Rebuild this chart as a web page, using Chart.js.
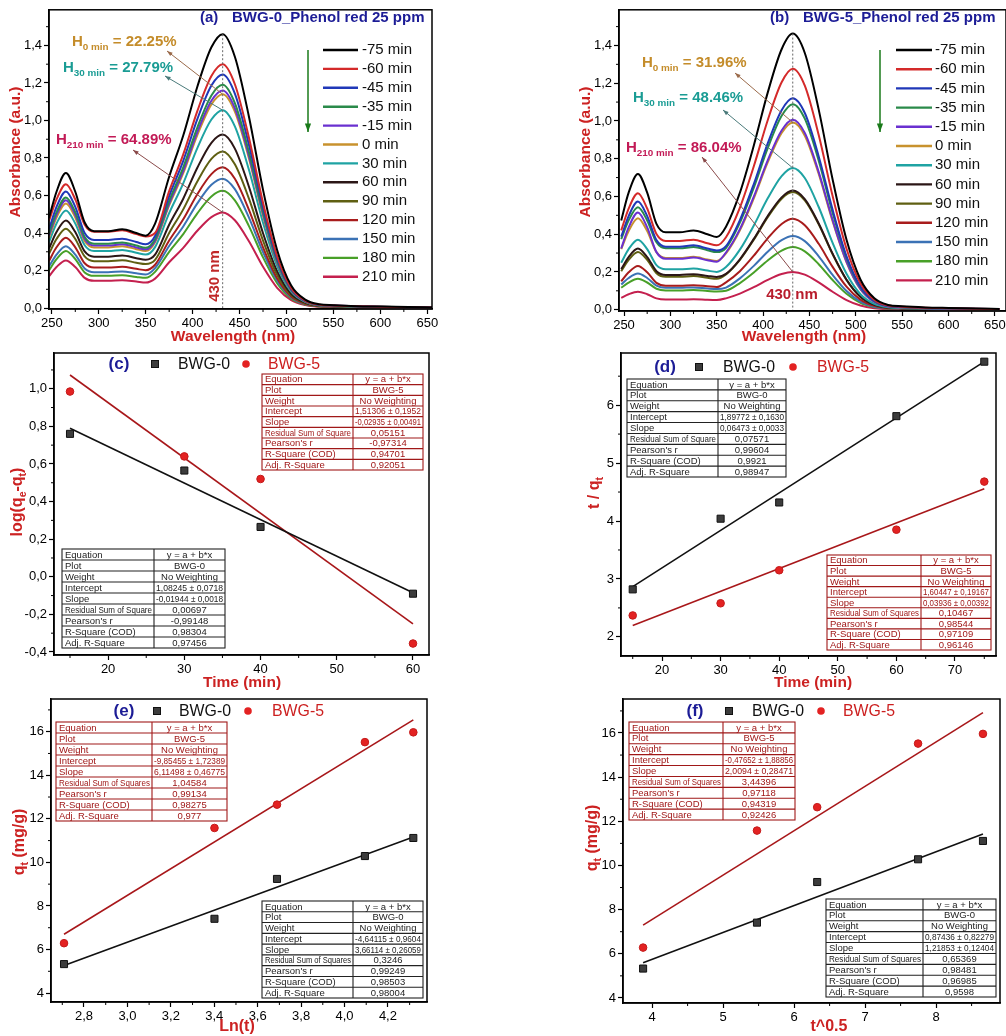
<!DOCTYPE html>
<html>
<head>
<meta charset="utf-8">
<script src="https://cdn.jsdelivr.net/npm/chart.js@4.4.1/dist/chart.umd.min.js"></script>
<style>
html, body { margin: 0; padding: 0; background: #fff; overflow: hidden; width: 1006px; height: 1036px; position: relative; }
canvas { position: absolute; }
</style>
</head>
<body>
<canvas id="ca" width="500" height="344" style="left:0;top:0"></canvas>
<canvas id="cb" width="520" height="344" style="left:500px;top:0"></canvas>
<canvas id="cc" width="500" height="360" style="left:0;top:340px"></canvas>
<canvas id="cd" width="520" height="360" style="left:500px;top:340px"></canvas>
<canvas id="ce" width="500" height="366" style="left:0;top:670px"></canvas>
<canvas id="cf" width="520" height="366" style="left:500px;top:670px"></canvas>
<script>
// ---- spectra (a) BWG-0 and (b) BWG-5, absorbance vs wavelength ----
const wavelengths = [247,255,265,275,285,295,310,325,340,350,360,375,390,405,420,432,445,460,475,490,505,520,535,550,575,600,630,655];
const legendTimes = ['-75 min','-60 min','-45 min','-35 min','-15 min','0 min','30 min','60 min','90 min','120 min','150 min','180 min','210 min'];
const curveColors = ['#000000','#d42a2a','#2038b8','#2a8a4a','#6a30d0','#c8922e','#1fa3a3','#2b1616','#5f5f12','#a81c1c','#3b72b5','#48a028','#c4204e'];

const a_m75 = [0.48,0.62,0.72,0.62,0.456,0.41,0.41,0.42,0.40,0.386,0.45,0.70,0.92,1.18,1.39,1.46,1.34,1.02,0.63,0.31,0.12,0.045,0.02,0.015,0.01,0.008,0.005,0.003];
const a_m60 = [0.464,0.579,0.66,0.579,0.444,0.407,0.407,0.415,0.394,0.382,0.40,0.623,0.819,1.05,1.237,1.30,1.193,0.908,0.561,0.276,0.107,0.04,0.018,0.013,0.009,0.007,0.004,0.003];
const a_m45 = [0.42,0.539,0.622,0.539,0.40,0.363,0.363,0.37,0.352,0.34,0.384,0.597,0.785,1.007,1.186,1.245,1.143,0.87,0.537,0.264,0.102,0.038,0.017,0.013,0.009,0.007,0.004,0.003];
const a_m35 = [0.398,0.511,0.59,0.511,0.379,0.343,0.343,0.35,0.333,0.322,0.367,0.571,0.75,0.962,1.133,1.19,1.092,0.831,0.513,0.253,0.098,0.037,0.016,0.012,0.008,0.007,0.004,0.002];
const a_m15 = [0.387,0.497,0.575,0.497,0.368,0.333,0.333,0.34,0.323,0.313,0.358,0.557,0.731,0.938,1.105,1.16,1.065,0.811,0.501,0.246,0.095,0.036,0.016,0.012,0.008,0.006,0.004,0.002];
const a_0   = [0.376,0.483,0.558,0.483,0.357,0.323,0.323,0.33,0.314,0.304,0.351,0.547,0.719,0.922,1.086,1.14,1.047,0.797,0.492,0.242,0.094,0.035,0.016,0.012,0.008,0.006,0.004,0.002];
const a_30  = [0.352,0.451,0.52,0.451,0.335,0.304,0.304,0.31,0.295,0.285,0.325,0.506,0.665,0.853,1.005,1.055,0.969,0.737,0.455,0.224,0.087,0.033,0.014,0.011,0.007,0.006,0.004,0.002];
const a_60  = [0.317,0.405,0.467,0.405,0.302,0.274,0.274,0.28,0.266,0.258,0.285,0.444,0.583,0.748,0.881,0.925,0.85,0.647,0.399,0.197,0.076,0.029,0.013,0.01,0.006,0.005,0.003,0.002];
const a_90  = [0.289,0.368,0.423,0.368,0.275,0.25,0.25,0.255,0.242,0.235,0.257,0.40,0.526,0.675,0.795,0.835,0.766,0.583,0.36,0.177,0.069,0.026,0.011,0.009,0.006,0.005,0.003,0.002];
const a_120 = [0.251,0.324,0.375,0.324,0.239,0.216,0.216,0.22,0.209,0.202,0.231,0.36,0.473,0.607,0.714,0.75,0.689,0.524,0.324,0.159,0.062,0.023,0.01,0.008,0.005,0.004,0.003,0.002];
const a_150 = [0.222,0.285,0.33,0.285,0.211,0.191,0.191,0.195,0.185,0.179,0.213,0.331,0.435,0.558,0.657,0.69,0.634,0.482,0.298,0.147,0.057,0.021,0.009,0.007,0.005,0.004,0.002,0.001];
const a_180 = [0.201,0.261,0.304,0.261,0.19,0.172,0.172,0.175,0.166,0.161,0.193,0.30,0.394,0.505,0.595,0.625,0.574,0.437,0.27,0.133,0.051,0.019,0.009,0.006,0.004,0.003,0.002,0.001];
const a_210 = [0.169,0.219,0.254,0.219,0.161,0.145,0.145,0.148,0.141,0.136,0.157,0.244,0.321,0.412,0.485,0.51,0.468,0.356,0.22,0.108,0.042,0.016,0.007,0.005,0.003,0.003,0.002,0.001];

const b_m75 = [0.473,0.62,0.719,0.62,0.455,0.41,0.41,0.42,0.40,0.385,0.44,0.62,0.87,1.15,1.38,1.463,1.36,1.06,0.69,0.37,0.16,0.06,0.025,0.018,0.012,0.009,0.006,0.004];
const b_m60 = [0.42,0.536,0.617,0.536,0.401,0.364,0.364,0.371,0.352,0.341,0.384,0.541,0.76,1.004,1.205,1.277,1.187,0.925,0.602,0.323,0.14,0.052,0.022,0.016,0.01,0.008,0.005,0.003];
const b_m45 = [0.387,0.496,0.573,0.496,0.369,0.334,0.334,0.341,0.324,0.314,0.337,0.475,0.666,0.881,1.057,1.12,1.042,0.812,0.529,0.283,0.123,0.046,0.019,0.014,0.009,0.007,0.005,0.003];
const b_m35 = [0.374,0.473,0.543,0.473,0.357,0.325,0.325,0.332,0.315,0.305,0.327,0.461,0.647,0.856,1.027,1.089,1.012,0.789,0.513,0.275,0.119,0.045,0.019,0.013,0.009,0.007,0.004,0.003];
const b_m15 = [0.324,0.436,0.515,0.436,0.305,0.27,0.27,0.276,0.262,0.254,0.303,0.427,0.599,0.791,0.949,1.006,0.936,0.729,0.475,0.255,0.11,0.041,0.017,0.012,0.008,0.006,0.004,0.003];
const b_0   = [0.321,0.417,0.485,0.417,0.305,0.274,0.274,0.28,0.266,0.258,0.298,0.42,0.59,0.78,0.936,0.992,0.922,0.719,0.468,0.251,0.108,0.041,0.017,0.012,0.008,0.006,0.004,0.003];
const b_30  = [0.249,0.321,0.371,0.321,0.236,0.214,0.214,0.218,0.207,0.20,0.226,0.318,0.446,0.59,0.708,0.751,0.698,0.544,0.354,0.19,0.082,0.031,0.013,0.009,0.006,0.005,0.003,0.002];
const b_60  = [0.215,0.279,0.324,0.279,0.204,0.184,0.184,0.188,0.179,0.173,0.19,0.267,0.375,0.496,0.595,0.631,0.586,0.457,0.297,0.159,0.069,0.026,0.011,0.008,0.005,0.004,0.003,0.002];
const b_90  = [0.204,0.264,0.306,0.264,0.193,0.174,0.174,0.178,0.169,0.164,0.187,0.264,0.371,0.49,0.588,0.623,0.579,0.452,0.294,0.158,0.068,0.026,0.011,0.008,0.005,0.004,0.003,0.002];
const b_120 = [0.15,0.198,0.232,0.198,0.142,0.127,0.127,0.13,0.124,0.12,0.145,0.204,0.286,0.378,0.454,0.482,0.447,0.349,0.227,0.122,0.053,0.02,0.008,0.006,0.004,0.003,0.002,0.001];
const b_150 = [0.133,0.168,0.192,0.168,0.127,0.116,0.116,0.118,0.112,0.109,0.117,0.166,0.232,0.307,0.368,0.39,0.363,0.283,0.184,0.099,0.043,0.016,0.007,0.005,0.003,0.002,0.002,0.001];
const b_180 = [0.116,0.144,0.164,0.144,0.111,0.102,0.102,0.104,0.099,0.096,0.10,0.141,0.197,0.261,0.313,0.332,0.309,0.241,0.157,0.084,0.036,0.014,0.006,0.004,0.003,0.002,0.001,0.001];
const b_210 = [0.063,0.082,0.095,0.082,0.06,0.054,0.054,0.055,0.052,0.051,0.06,0.085,0.119,0.158,0.189,0.20,0.186,0.145,0.095,0.051,0.022,0.008,0.003,0.002,0.002,0.001,0.001,0.001];

// ---- kinetics (c)-(f) ----
const timeC = [15, 30, 40, 60];
const logC0 = [0.76, 0.565, 0.265, -0.09];
const logC5 = [0.985, 0.64, 0.52, -0.355];
const fitCx = [15, 60];
const fitC0 = [0.79, -0.085];
const fitC5 = [1.073, -0.25];

const timeD = [15, 30, 40, 60, 75];
const tqD0 = [2.82, 4.04, 4.32, 5.81, 6.75];
const tqD5 = [2.37, 2.58, 3.15, 3.85, 4.68];
const fitDx = [15, 75];
const fitD0 = [2.868, 6.752];
const fitD5 = [2.195, 4.556];

const lnT = [2.708, 3.401, 3.689, 4.094, 4.317];
const qE0 = [5.33, 7.41, 9.24, 10.29, 11.12];
const qE5 = [6.29, 11.58, 12.65, 15.52, 15.97];
const fitEx = [2.708, 4.317];
const fitE0 = [5.27, 11.16];
const fitE5 = [6.70, 16.54];

const sqrtT = [3.873, 5.477, 6.325, 7.746, 8.660];
const qF0 = [5.33, 7.41, 9.25, 10.28, 11.11];
const qF5 = [6.28, 11.58, 12.64, 15.52, 15.96];
const fitFx = [3.873, 8.660];
const fitF0 = [5.59, 11.43];
const fitF5 = [7.30, 16.92];

// fit report tables
const rowNames = ['Equation', 'Plot', 'Weight', 'Intercept', 'Slope', 'Residual Sum of Square', "Pearson's r", 'R-Square (COD)', 'Adj. R-Square'];
const rowNamesS = ['Equation', 'Plot', 'Weight', 'Intercept', 'Slope', 'Residual Sum of Squares', "Pearson's r", 'R-Square (COD)', 'Adj. R-Square'];
const tblC5 = ['y = a + b*x', 'BWG-5', 'No Weighting', '1,51306 ± 0,1952', '-0,02935 ± 0,00491', '0,05151', '-0,97314', '0,94701', '0,92051'];
const tblC0 = ['y = a + b*x', 'BWG-0', 'No Weighting', '1,08245 ± 0,0718', '-0,01944 ± 0,0018', '0,00697', '-0,99148', '0,98304', '0,97456'];
const tblD0 = ['y = a + b*x', 'BWG-0', 'No Weighting', '1,89772 ± 0,1630', '0,06473 ± 0,0033', '0,07571', '0,99604', '0,9921', '0,98947'];
const tblD5 = ['y = a + b*x', 'BWG-5', 'No Weighting', '1,60447 ± 0,19167', '0,03936 ± 0,00392', '0,10467', '0,98544', '0,97109', '0,96146'];
const tblE5 = ['y = a + b*x', 'BWG-5', 'No Weighting', '-9,85455 ± 1,72389', '6,11498 ± 0,46775', '1,04584', '0,99134', '0,98275', '0,977'];
const tblE0 = ['y = a + b*x', 'BWG-0', 'No Weighting', '-4,64115 ± 0,9604', '3,66114 ± 0,26059', '0,3246', '0,99249', '0,98503', '0,98004'];
const tblF5 = ['y = a + b*x', 'BWG-5', 'No Weighting', '-0,47652 ± 1,88856', '2,0094 ± 0,28471', '3,44396', '0,97118', '0,94319', '0,92426'];
const tblF0 = ['y = a + b*x', 'BWG-0', 'No Weighting', '0,87436 ± 0,82279', '1,21853 ± 0,12404', '0,65369', '0,98481', '0,96985', '0,9598'];

const FONT = '"Liberation Sans", Arial, sans-serif';
const NAVY = '#1c1c96', AXRED = '#cc2222', RED5 = '#cc1f1f', DARK0 = '#111';
const GOLD = '#c48c2a', TEAL = '#1a9c94', CRIM = '#c21a56';
const pk = wavelengths.indexOf(432);

function pts(xs, ys) { return xs.map((x, i) => ({ x: x, y: ys[i] })); }

function axisOpts(min, max, step, dec, isX, size) {
  return {
    type: 'linear', min: min, max: max, position: isX ? 'bottom' : 'left',
    afterBuildTicks: s => {
      const t = [];
      for (let k = Math.ceil(min / step - 1e-9); k * step <= max + 1e-9; k++) t.push({ value: +(k * step).toFixed(6) });
      s.ticks = t;
    },
    afterFit: s => { if (isX) s.height = size; else s.width = size; },
    ticks: { color: '#000', font: { family: FONT, size: 13 }, padding: 2, autoSkip: false, maxRotation: 0,
             callback: v => Number(v).toFixed(dec).replace('.', ',') },
    grid: { drawOnChartArea: false, drawTicks: true, tickLength: 5, tickColor: '#000', tickWidth: 1.2 },
    border: { display: true, color: '#000', width: 1.5 }
  };
}

function frame(c) {
  const a = c.chartArea, x = c.ctx;
  x.save(); x.strokeStyle = '#000'; x.lineWidth = 1.5;
  x.strokeRect(a.left, a.top, a.right - a.left, a.bottom - a.top);
  x.restore();
}

function minor(ctx, s, step, major, isX) {
  ctx.save(); ctx.strokeStyle = '#000'; ctx.lineWidth = 1;
  for (let k = Math.ceil(s.min / step - 1e-9); k * step <= s.max + 1e-9; k++) {
    const v = k * step;
    if (Math.abs(v / major - Math.round(v / major)) < 1e-6) continue;
    const p = s.getPixelForValue(v);
    ctx.beginPath();
    if (isX) { ctx.moveTo(p, s.top); ctx.lineTo(p, s.top + 3); }
    else { ctx.moveTo(s.right, p); ctx.lineTo(s.right - 3, p); }
    ctx.stroke();
  }
  ctx.restore();
}

function txt(ctx, s, x, y, o) {
  ctx.save();
  ctx.font = (o.w || 'normal') + ' ' + o.size + 'px ' + FONT;
  ctx.fillStyle = o.color || '#000';
  ctx.textAlign = o.align || 'left';
  ctx.textBaseline = 'middle';
  if (o.max) ctx.fillText(s, x, y, o.max); else ctx.fillText(s, x, y);
  ctx.restore();
}

// bold text with subscripts: parts = [[text, isSub], ...]
function rich(ctx, parts, x, y, size, color, align, rot) {
  ctx.save(); ctx.translate(x, y); if (rot) ctx.rotate(-Math.PI / 2);
  ctx.fillStyle = color; ctx.textBaseline = 'middle'; ctx.textAlign = 'left';
  const f = p => 'bold ' + (p[1] ? size * 0.66 : size) + 'px ' + FONT;
  let w = 0;
  parts.forEach(p => { ctx.font = f(p); w += ctx.measureText(p[0]).width; });
  let cx = align === 'center' ? -w / 2 : 0;
  parts.forEach(p => { ctx.font = f(p); ctx.fillText(p[0], cx, p[1] ? size * 0.32 : 0); cx += ctx.measureText(p[0]).width; });
  ctx.restore();
}

function arrow(ctx, x1, y1, x2, y2, color, head, lw) {
  ctx.save(); ctx.strokeStyle = color; ctx.fillStyle = color; ctx.lineWidth = lw || 1;
  ctx.beginPath(); ctx.moveTo(x1, y1); ctx.lineTo(x2, y2); ctx.stroke();
  const a = Math.atan2(y2 - y1, x2 - x1);
  ctx.beginPath(); ctx.moveTo(x2, y2);
  ctx.lineTo(x2 - head * Math.cos(a - 0.35), y2 - head * Math.sin(a - 0.35));
  ctx.lineTo(x2 - head * Math.cos(a + 0.35), y2 - head * Math.sin(a + 0.35));
  ctx.closePath(); ctx.fill();
  ctx.restore();
}

function specLegend(ctx, x1, x2, tx, y0, dy) {
  legendTimes.forEach((t, i) => {
    const yy = y0 + i * dy;
    ctx.save(); ctx.strokeStyle = curveColors[i]; ctx.lineWidth = 2.4;
    ctx.beginPath(); ctx.moveTo(x1, yy); ctx.lineTo(x2, yy); ctx.stroke(); ctx.restore();
    txt(ctx, t, tx, yy, { size: 15, color: '#111' });
  });
}

function dotted(ctx, x, y1, y2) {
  ctx.save(); ctx.strokeStyle = '#666'; ctx.lineWidth = 1; ctx.setLineDash([2, 2]);
  ctx.beginPath(); ctx.moveTo(x, y1); ctx.lineTo(x, y2); ctx.stroke(); ctx.restore();
}

function key(ctx, letter, lx, sx, t0, dx, t5, yy) {
  txt(ctx, letter, lx, yy, { w: 'bold', size: 17, color: NAVY, align: 'center' });
  ctx.save();
  ctx.fillStyle = '#3c3c3c'; ctx.strokeStyle = '#111'; ctx.lineWidth = 1;
  ctx.fillRect(sx - 3.5, yy - 3.5, 7, 7); ctx.strokeRect(sx - 3.5, yy - 3.5, 7, 7);
  ctx.fillStyle = '#e32222'; ctx.beginPath(); ctx.arc(dx, yy, 3.8, 0, Math.PI * 2); ctx.fill();
  ctx.restore();
  txt(ctx, 'BWG-0', t0, yy, { size: 17, color: DARK0, max: 52 });
  txt(ctx, 'BWG-5', t5, yy, { size: 17, color: RED5, max: 52 });
}

function table(ctx, x1, y1, x2, y2, xs, names, vals, color) {
  const h = (y2 - y1) / names.length;
  ctx.save();
  ctx.fillStyle = '#fff'; ctx.fillRect(x1, y1, x2 - x1, y2 - y1);
  ctx.strokeStyle = color; ctx.lineWidth = 1.1;
  ctx.strokeRect(x1, y1, x2 - x1, y2 - y1);
  ctx.beginPath();
  for (let i = 1; i < names.length; i++) { ctx.moveTo(x1, y1 + i * h); ctx.lineTo(x2, y1 + i * h); }
  ctx.moveTo(xs, y1); ctx.lineTo(xs, y2);
  ctx.stroke();
  ctx.restore();
  names.forEach((n, i) => {
    const cy = y1 + h * i + h / 2 + 0.5;
    txt(ctx, n, x1 + 3, cy, { size: 9.5, color: color, max: xs - x1 - 5 });
    txt(ctx, vals[i], (xs + x2) / 2, cy, { size: 9.5, color: color, align: 'center', max: x2 - xs - 4 });
  });
}

function spectrum(id, W, H, ca, curves, xr, yr, deco) {
  return new Chart(document.getElementById(id), {
    type: 'line',
    data: {
      datasets: curves.map((c, i) => ({
        label: legendTimes[i], data: pts(wavelengths, c), borderColor: curveColors[i],
        borderWidth: 2, pointRadius: 0, cubicInterpolationMode: 'monotone', fill: false
      }))
    },
    options: {
      devicePixelRatio: 1, responsive: false, animation: false,
      layout: { padding: { left: 0, top: ca.t, right: W - ca.r, bottom: 0 } },
      scales: { x: axisOpts(xr[0], xr[1], 50, 0, true, H - ca.b), y: axisOpts(yr[0], yr[1], 0.2, 1, false, ca.l) },
      plugins: { legend: { display: false }, tooltip: { enabled: false } }
    },
    plugins: [{ id: 'deco', afterDraw: c => deco(c, c.ctx, c.scales.x, c.scales.y) }]
  });
}

function kinetic(id, W, H, ca, xv, y0, y5, fx, f0, f5, xa, ya, deco) {
  return new Chart(document.getElementById(id), {
    type: 'scatter',
    data: {
      datasets: [
        { label: 'BWG-0', data: pts(xv, y0), pointStyle: 'rect', pointRadius: 5, backgroundColor: '#3c3c3c', borderColor: '#111', borderWidth: 1 },
        { label: 'BWG-5', data: pts(xv, y5), pointStyle: 'circle', pointRadius: 3.8, backgroundColor: '#e32222', borderColor: '#c41a1a', borderWidth: 1 },
        { label: 'fit BWG-0', data: pts(fx, f0), showLine: true, pointRadius: 0, borderColor: '#111', borderWidth: 1.6 },
        { label: 'fit BWG-5', data: pts(fx, f5), showLine: true, pointRadius: 0, borderColor: '#a8171a', borderWidth: 1.6 }
      ]
    },
    options: {
      devicePixelRatio: 1, responsive: false, animation: false,
      layout: { padding: { left: 0, top: ca.t, right: W - ca.r, bottom: 0 } },
      scales: { x: axisOpts(xa[0], xa[1], xa[2], xa[3], true, H - ca.b), y: axisOpts(ya[0], ya[1], ya[2], ya[3], false, ca.l) },
      plugins: { legend: { display: false }, tooltip: { enabled: false } }
    },
    plugins: [{ id: 'deco', afterDraw: c => deco(c, c.ctx, c.scales.x, c.scales.y) }]
  });
}

// (a)
spectrum('ca', 500, 344, { l: 49, t: 8, r: 432, b: 309 },
  [a_m75, a_m60, a_m45, a_m35, a_m15, a_0, a_30, a_60, a_90, a_120, a_150, a_180, a_210],
  [247, 655], [-0.005, 1.59],
  (c, ctx, x, y) => {
    frame(c); minor(ctx, x, 25, 50, true); minor(ctx, y, 0.1, 0.2, false);
    const px = x.getPixelForValue(wavelengths[pk]);
    dotted(ctx, px, y.getPixelForValue(a_m75[pk]), y.getPixelForValue(0));
    txt(ctx, '(a)', 200, 18, { w: 'bold', size: 15, color: NAVY });
    txt(ctx, 'BWG-0_Phenol red 25 ppm', 232, 18, { w: 'bold', size: 15, color: NAVY, max: 197 });
    rich(ctx, [['H', 0], ['0 min', 1], [' = 22.25%', 0]], 72, 42, 15, GOLD, 'left');
    rich(ctx, [['H', 0], ['30 min', 1], [' = 27.79%', 0]], 63, 68, 15, TEAL, 'left');
    rich(ctx, [['H', 0], ['210 min', 1], [' = 64.89%', 0]], 56, 140, 15, CRIM, 'left');
    arrow(ctx, px, y.getPixelForValue(a_0[pk]), 167, 51, '#9a6a4a', 6);
    arrow(ctx, px, y.getPixelForValue(a_30[pk]), 165, 76, '#4a7a7a', 6);
    arrow(ctx, px, y.getPixelForValue(a_210[pk]), 133, 150, '#8a4a4a', 6);
    ctx.save(); ctx.translate(215, 276); ctx.rotate(-Math.PI / 2);
    txt(ctx, '430 nm', 0, 0, { w: 'bold', size: 15, color: '#c02828', align: 'center' }); ctx.restore();
    specLegend(ctx, 323, 358, 362, 50, 18.9);
    arrow(ctx, 308, 50, 308, 132, '#1a7a1a', 9, 1.5);
    rich(ctx, [['Absorbance (a.u.)', 0]], 16, 152, 15.5, AXRED, 'center', true);
    rich(ctx, [['Wavelength (nm)', 0]], 233, 337, 15.5, AXRED, 'center');
  });

// (b)
spectrum('cb', 520, 344, { l: 119, t: 8, r: 506, b: 311 },
  [b_m75, b_m60, b_m45, b_m35, b_m15, b_0, b_30, b_60, b_90, b_120, b_150, b_180, b_210],
  [244.6, 662], [-0.007, 1.589],
  (c, ctx, x, y) => {
    frame(c); minor(ctx, x, 25, 50, true); minor(ctx, y, 0.1, 0.2, false);
    const px = x.getPixelForValue(wavelengths[pk]);
    dotted(ctx, px, y.getPixelForValue(b_m75[pk]), y.getPixelForValue(0));
    txt(ctx, '(b)', 270, 18, { w: 'bold', size: 15, color: NAVY });
    txt(ctx, 'BWG-5_Phenol red 25 ppm', 303, 18, { w: 'bold', size: 15, color: NAVY, max: 199 });
    rich(ctx, [['H', 0], ['0 min', 1], [' = 31.96%', 0]], 142, 63, 15, GOLD, 'left');
    rich(ctx, [['H', 0], ['30 min', 1], [' = 48.46%', 0]], 133, 98, 15, TEAL, 'left');
    rich(ctx, [['H', 0], ['210 min', 1], [' = 86.04%', 0]], 126, 148, 15, CRIM, 'left');
    arrow(ctx, px, y.getPixelForValue(b_0[pk]), 235, 73, '#9a6a4a', 6);
    arrow(ctx, px, y.getPixelForValue(b_30[pk]), 223, 110, '#4a7a7a', 6);
    arrow(ctx, px, y.getPixelForValue(b_210[pk]), 202, 157, '#8a4a4a', 6);
    txt(ctx, '430 nm', 292, 295, { w: 'bold', size: 15, color: '#b81c2c', align: 'center' });
    specLegend(ctx, 396, 432, 435, 50, 19.2);
    arrow(ctx, 380, 50, 380, 132, '#1a7a1a', 9, 1.5);
    rich(ctx, [['Absorbance (a.u.)', 0]], 86, 152, 15.5, AXRED, 'center', true);
    rich(ctx, [['Wavelength (nm)', 0]], 304, 337, 15.5, AXRED, 'center');
  });

// (c)
kinetic('cc', 500, 360, { l: 54, t: 13, r: 429, b: 315 }, timeC, logC0, logC5, fitCx, fitC0, fitC5,
  [12.9, 62.1, 10, 0], [-0.416, 1.19, 0.2, 1],
  (c, ctx, x, y) => {
    frame(c); minor(ctx, x, 5, 10, true); minor(ctx, y, 0.1, 0.2, false);
    key(ctx, '(c)', 119, 155, 178, 246, 268, 24);
    table(ctx, 262, 34, 423, 130, 353, rowNames, tblC5, '#a01818');
    table(ctx, 62, 209, 225, 308, 154, rowNames, tblC0, '#222');
    rich(ctx, [['log(q', 0], ['e', 1], ['-q', 0], ['t', 1], [')', 0]], 18, 162, 16, AXRED, 'center', true);
    rich(ctx, [['Time (min)', 0]], 242, 343, 15.5, AXRED, 'center');
  });

// (d)
kinetic('cd', 520, 360, { l: 121, t: 13, r: 496, b: 316 }, timeD, tqD0, tqD5, fitDx, fitD0, fitD5,
  [13.0, 77.0, 10, 0], [1.67, 6.9, 1, 0],
  (c, ctx, x, y) => {
    frame(c); minor(ctx, x, 5, 10, true); minor(ctx, y, 0.5, 1, false);
    key(ctx, '(d)', 165, 199, 223, 293, 317, 27);
    table(ctx, 127, 39, 286, 137, 218, rowNames, tblD0, '#222');
    table(ctx, 327, 215, 491, 310, 421, rowNamesS, tblD5, '#a01818');
    rich(ctx, [['t / q', 0], ['t', 1]], 95, 153, 16, AXRED, 'center', true);
    rich(ctx, [['Time (min)', 0]], 313, 343, 15.5, AXRED, 'center');
  });

// (e)
kinetic('ce', 500, 366, { l: 51, t: 29, r: 427, b: 332 }, lnT, qE0, qE5, fitEx, fitE0, fitE5,
  [2.648, 4.38, 0.2, 1], [3.59, 17.5, 2, 0],
  (c, ctx, x, y) => {
    frame(c); minor(ctx, x, 0.1, 0.2, true); minor(ctx, y, 1, 2, false);
    key(ctx, '(e)', 124, 157, 179, 248, 272, 41);
    table(ctx, 56, 52, 227, 151, 152, rowNamesS, tblE5, '#a01818');
    table(ctx, 262, 231, 423, 328, 353, rowNamesS, tblE0, '#222');
    rich(ctx, [['q', 0], ['t', 1], [' (mg/g)', 0]], 20, 172, 16, AXRED, 'center', true);
    rich(ctx, [['Ln(t)', 0]], 237, 357, 16, AXRED, 'center');
  });

// (f)
kinetic('cf', 520, 366, { l: 123, t: 29, r: 500, b: 333 }, sqrtT, qF0, qF5, fitFx, fitF0, fitF5,
  [3.59, 8.9, 1, 0], [3.77, 17.54, 2, 0],
  (c, ctx, x, y) => {
    frame(c); minor(ctx, x, 0.5, 1, true); minor(ctx, y, 1, 2, false);
    key(ctx, '(f)', 195, 229, 252, 321, 343, 41);
    table(ctx, 129, 52, 295, 150, 223, rowNamesS, tblF5, '#a01818');
    table(ctx, 326, 229, 496, 327, 423, rowNamesS, tblF0, '#222');
    rich(ctx, [['q', 0], ['t', 1], [' (mg/g)', 0]], 93, 168, 16, AXRED, 'center', true);
    rich(ctx, [['t^0.5', 0]], 329, 357, 16, AXRED, 'center');
  });
</script>
</body>
</html>
